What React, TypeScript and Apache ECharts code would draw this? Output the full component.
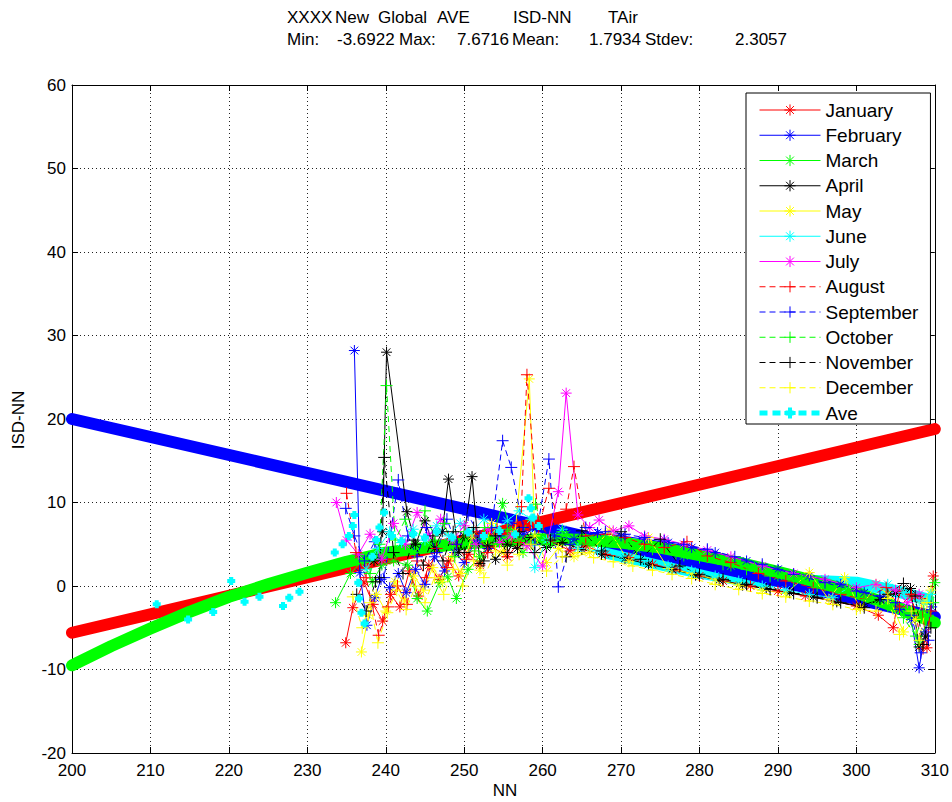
import React, { useEffect, useRef } from "react";
import * as echarts from "echarts";

// ---------- data ----------
const X_MIN = 200, X_MAX = 310, Y_MIN = -20, Y_MAX = 60;

const JANUARY_FIT: number[][] = [[200, -5.6], [310, 18.8]];
const FEBRUARY_FIT: number[][] = [[200, 20.0], [310, -3.7]];
const MARCH_FIT: number[][] = [
  [200, -9.5], [205, -7.2], [210, -5.1], [215, -3.1], [220, -1.3], [225, 0.2], [230, 1.6], [235, 2.9],
  [240, 4.0], [245, 4.6], [250, 5.1], [255, 5.4], [260, 5.6], [265, 5.55], [270, 5.2], [275, 4.6],
  [280, 3.7], [285, 2.8], [290, 1.7], [295, 0.5], [300, -0.8], [305, -2.5], [310, -4.4],
];
const AVE_FIT: number[][] = [
  [268, 4.0], [275, 2.6], [280, 1.6], [285, 0.8], [290, 0.6], [295, 0.6], [300, 0.4], [305, -0.6], [309, -1.6],
];

const JANUARY: number[][] = [
  [234.9, -6.8], [235.8, -2.6], [237.2, 0.5], [238.4, -2.2], [239.6, -4.2], [240.6, -1.0], [241.8, -2.5], [243.0, 1.8],
  [244.2, -1.2], [245.5, 2.5], [246.8, 0.8], [248.0, 3.0], [249.3, 1.2], [250.6, 3.8], [252.0, 2.5], [253.4, 4.8],
  [255.5, 3.5], [257.0, 5.2], [259.5, 7.8], [261.0, 5.5], [263.5, 4.2], [265.5, 4.8], [268.0, 3.8], [271.0, 3.4],
  [274.0, 2.6], [277.0, 2.0], [280.0, 1.2], [283.0, 0.6], [286.5, 0.0], [290.0, -0.6], [293.5, -1.2], [297.0, -1.8],
  [300.0, -2.4], [302.8, -3.5], [304.7, -5.0], [305.5, -0.6], [307.0, -1.2], [308.2, -1.5], [309.0, -7.4], [309.8, 1.2],
];
const FEBRUARY: number[][] = [
  [236.0, 28.2], [236.7, 1.6], [237.6, -4.7], [238.6, -1.4], [239.4, 0.8], [240.5, -0.2], [241.6, 1.5], [242.6, -0.8],
  [243.8, 2.0], [245.0, 0.2], [246.2, 3.5], [247.5, 1.8], [248.8, 4.0], [250.0, 2.8], [251.5, 5.5], [253.0, 4.5],
  [254.5, 6.0], [256.0, 7.5], [257.5, 6.2], [259.0, 6.8], [261.5, 6.0], [264.0, 5.6], [267.0, 6.4], [270.0, 6.0],
  [273.0, 5.6], [276.0, 5.2], [279.0, 4.6], [282.0, 4.0], [286.0, 3.0], [290.0, 2.0], [294.0, 1.2], [298.0, 0.2],
  [301.0, -0.8], [303.5, -1.5], [305.5, -2.8], [307.0, -4.0], [308.0, -9.8], [308.8, -5.5], [309.6, -2.5],
];
const MARCH: number[][] = [
  [233.6, -2.0], [235.5, 1.5], [237.0, 3.0], [238.3, 0.5], [239.5, 2.5], [241.0, 3.0], [242.8, 2.5], [244.0, -1.5],
  [245.3, -3.0], [246.9, 0.4], [247.9, 1.1], [249.0, -1.5], [250.5, 2.0], [252.0, 3.5], [253.5, 5.5], [254.9, 9.9],
  [256.0, 6.5], [257.5, 4.0], [259.0, 6.0], [261.0, 5.0], [263.0, 6.2], [266.0, 5.0], [269.0, 5.6], [272.0, 4.4],
  [275.0, 4.8], [278.0, 3.6], [281.0, 3.4], [284.0, 2.4], [287.0, 2.2], [290.0, 1.2], [293.0, 1.0], [296.0, 0.0],
  [299.0, -0.4], [302.0, -1.5], [304.5, -2.2], [306.5, -3.5], [308.0, -7.0], [309.2, -3.5], [310.0, 0.4],
];
const APRIL: number[][] = [
  [238.5, 3.0], [239.6, 6.5], [240.1, 28.0], [242.7, 8.9], [243.8, 5.0], [245.0, 7.8], [246.2, 4.5], [247.2, 6.5],
  [248.0, 12.8], [249.3, 4.0], [250.0, 6.0], [251.0, 13.1], [252.0, 2.7], [253.0, 4.8], [254.0, 3.2], [255.5, 5.0],
  [256.8, 4.5], [258.5, 5.8], [260.5, 4.6], [262.5, 5.2], [265.0, 4.4], [267.5, 3.8], [270.5, 3.3], [273.5, 2.6],
  [276.5, 2.0], [279.5, 1.3], [282.5, 0.7], [285.5, 0.1], [288.5, -0.3], [291.5, -0.8], [294.5, -1.3], [297.5, -1.9],
  [300.5, -2.4], [303.0, -1.6], [305.0, -0.9], [306.9, -0.3], [308.0, -7.3], [308.8, -6.0],
];
const MAY: number[][] = [
  [236.9, -7.9], [237.8, -3.5], [238.8, -1.0], [240.0, -3.0], [241.2, 0.5], [242.4, -1.8], [243.6, 1.2], [244.8, -0.5],
  [246.0, 2.2], [247.2, 0.5], [248.4, 3.5], [249.6, 1.5], [251.0, 6.0], [252.0, 1.9], [253.5, 7.5], [255.0, 4.0],
  [256.5, 6.5], [258.3, 24.8], [259.0, 6.0], [260.5, 2.8], [262.0, 4.5], [264.0, 3.5], [266.0, 4.0], [268.5, 6.6],
  [271.0, 2.9], [273.5, 5.8], [276.0, 2.1], [279.0, 1.5], [282.0, 0.8], [285.0, 0.1], [288.0, -0.5], [291.0, -0.9],
  [294.0, 1.6], [296.5, -1.6], [298.5, 1.0], [300.5, -2.7], [302.5, 0.2], [304.0, -1.0], [306.0, -5.5], [307.5, -4.0],
  [308.5, -2.0], [309.5, -0.5],
];
const JUNE: number[][] = [
  [237.5, 2.0], [239.0, 4.5], [240.5, 6.5], [242.0, 5.2], [243.5, 6.8], [245.0, 5.5], [246.5, 7.2], [248.0, 6.0],
  [249.5, 7.5], [251.0, 6.5], [252.5, 8.0], [254.0, 6.8], [255.5, 7.8], [257.0, 9.0], [258.5, 8.0], [259.0, 2.2],
  [260.5, 5.5], [262.5, 6.8], [264.5, 4.5], [267.0, 4.2], [270.0, 3.6], [273.0, 3.0], [276.0, 2.4], [279.0, 1.8],
  [282.0, 1.2], [285.0, 0.6], [288.0, 0.0], [291.0, -0.5], [294.0, -1.0], [297.0, -1.4], [300.0, 0.4], [302.0, -0.2],
  [304.0, 0.2], [306.0, -0.8], [308.0, -1.8], [309.5, -1.0],
];
const JULY: number[][] = [
  [233.7, 10.0], [235.0, 5.5], [236.5, 3.8], [238.0, 6.2], [239.5, 3.2], [241.0, 7.5], [242.5, 5.0], [244.0, 8.8],
  [245.5, 6.0], [247.0, 8.0], [248.5, 5.5], [250.0, 7.2], [251.5, 5.0], [253.0, 6.8], [254.5, 5.2], [256.0, 6.0],
  [258.0, 4.8], [260.0, 2.4], [262.0, 11.3], [263.0, 23.1], [264.5, 8.5], [266.0, 7.0], [267.2, 7.9], [269.0, 6.6],
  [271.0, 7.2], [273.0, 6.0], [275.5, 5.6], [278.0, 5.0], [281.0, 4.3], [284.0, 3.5], [288.0, 2.4], [292.0, 1.5],
  [296.0, 0.8], [300.0, -0.2], [302.5, 0.2], [305.0, -0.5], [306.5, -2.0], [308.0, -1.0],
];
const AUGUST: number[][] = [
  [235.0, 11.1], [236.2, 4.0], [237.5, 1.0], [239.1, -5.9], [240.3, -2.5], [241.5, 0.0], [242.7, -2.2], [244.0, 3.0],
  [245.2, 1.0], [246.5, 4.5], [247.8, 2.2], [249.0, 5.0], [250.3, 3.2], [251.5, 6.5], [253.0, 4.0], [254.2, 6.8],
  [255.5, 3.5], [257.3, 9.5], [258.0, 25.3], [259.5, 7.0], [260.8, 11.7], [262.0, 8.0], [263.0, 9.2], [264.0, 14.3],
  [265.5, 6.0], [268.0, 6.2], [270.5, 5.8], [273.0, 5.0], [275.5, 4.6], [278.4, 5.3], [281.0, 3.6], [284.0, 2.8],
  [287.5, 1.5], [291.0, 0.6], [294.5, -0.2], [298.0, -1.0], [301.0, -1.6], [303.8, -0.2], [305.5, -2.5], [307.0, -1.0],
  [308.5, -7.5], [309.5, -3.0],
];
const SEPTEMBER: number[][] = [
  [234.9, 9.3], [236.0, 6.0], [237.3, 3.0], [238.6, 5.3], [239.8, 1.0], [241.6, 12.7], [242.8, 6.0], [244.0, 3.5],
  [245.2, 7.0], [246.5, 4.0], [247.8, 8.0], [249.0, 5.0], [250.5, 8.5], [252.0, 6.0], [253.5, 7.0], [254.9, 17.4],
  [256.0, 14.2], [257.5, 7.0], [259.0, 5.0], [260.8, 15.2], [262.0, -0.1], [263.5, 5.0], [265.5, 7.0], [268.0, 6.5],
  [270.5, 6.2], [273.0, 5.8], [275.5, 5.4], [278.0, 5.0], [281.0, 4.4], [284.5, 3.5], [288.0, 2.6], [292.0, 1.4],
  [296.0, 0.4], [300.0, -0.6], [303.0, -1.2], [305.0, -2.0], [307.0, -3.5], [308.2, -8.0], [309.2, -6.5],
];
const OCTOBER: number[][] = [
  [238.0, 1.5], [239.2, 5.0], [240.1, 24.0], [241.2, 5.5], [242.5, 8.0], [243.7, 4.0], [245.0, 9.0], [246.3, 5.5],
  [247.5, 7.5], [248.8, 3.5], [250.0, 6.5], [251.3, 4.2], [252.6, 7.0], [254.0, 5.0], [255.5, 6.8], [257.0, 5.5],
  [259.1, 9.8], [260.5, 5.0], [262.5, 6.5], [265.0, 5.8], [268.0, 5.5], [271.0, 5.0], [274.0, 4.4], [277.0, 3.9],
  [280.0, 3.4], [283.0, 2.6], [286.0, 2.0], [289.0, 1.2], [292.0, 0.6], [295.0, -0.2], [298.0, -0.8], [301.0, -1.6],
  [304.0, -2.4], [306.0, -3.8], [307.6, -6.0], [308.6, -3.0], [309.8, -2.0],
];
const NOVEMBER: number[][] = [
  [236.3, -1.0], [237.5, -3.0], [238.7, 0.5], [239.2, 1.0], [239.8, 15.4], [241.0, 4.0], [242.2, 1.5], [243.5, 5.5],
  [244.8, 2.5], [246.0, 6.0], [247.3, 3.0], [248.6, 6.5], [250.0, 4.0], [251.2, 7.0], [252.5, 3.0], [254.0, 6.0],
  [255.5, 4.0], [257.0, 6.5], [259.0, 4.0], [261.0, 5.5], [263.0, 3.5], [265.0, 6.6], [267.5, 4.2], [270.0, 6.5],
  [272.5, 3.2], [275.0, 5.6], [277.5, 2.4], [280.0, 1.4], [283.0, 0.8], [286.0, 0.2], [289.0, -0.4], [292.0, -0.9],
  [295.0, -1.4], [298.0, -2.0], [301.0, -2.6], [304.0, -1.0], [306.0, 0.3], [307.5, -1.2], [308.5, -7.0], [309.5, -5.0],
];
const DECEMBER: number[][] = [
  [235.8, -1.3], [237.0, -5.0], [238.0, -2.0], [239.0, -6.8], [240.2, -3.2], [241.4, -0.5], [242.6, -2.8], [243.8, 0.0],
  [245.0, -2.0], [246.2, 1.0], [247.4, -1.0], [248.6, 2.0], [249.8, 0.0], [251.2, 3.0], [252.5, 1.0], [254.0, 4.2],
  [255.5, 2.5], [257.0, 3.8], [258.5, 5.0], [260.5, 1.8], [262.5, 3.5], [264.5, 4.0], [266.5, 3.4], [269.0, 2.9],
  [271.5, 2.4], [274.0, 1.9], [276.5, 1.4], [279.0, 0.9], [282.0, 0.2], [285.0, -0.4], [288.0, -0.9], [291.0, -1.3],
  [294.0, -1.8], [297.0, -2.2], [300.0, -2.8], [302.5, -3.0], [304.0, -1.5], [305.5, -5.8], [307.0, -3.0], [308.0, -6.5],
  [309.0, -2.0],
];
const AVE: number[][] = [
  [210.8, -2.2], [214.8, -4.0], [218.0, -3.1], [220.3, 0.6], [222.0, -1.9], [223.9, -1.3], [226.9, -2.4], [227.7, -1.4],
  [229.0, -0.7], [233.5, 4.0], [234.5, 5.0], [235.3, 6.0], [235.8, 7.2], [236.0, 8.5], [236.5, 0.4], [236.6, -1.5],
  [236.9, -3.2], [237.3, -4.5], [238.3, 3.5], [238.8, 5.5], [239.2, 7.0], [239.8, 8.8], [240.8, 6.0], [242.0, 5.4],
  [243.5, 6.2], [245.0, 5.8], [246.5, 6.5], [248.5, 5.8], [250.5, 6.4], [252.5, 6.0], [254.5, 6.6], [256.5, 6.2],
  [258.2, 10.5], [258.5, 9.3], [258.8, 8.2], [259.5, 7.2],
];

const MONTH_NAMES = [
  "January", "February", "March", "April", "May", "June", "July",
  "August", "September", "October", "November", "December",
];
const MONTH_DATA = [JANUARY, FEBRUARY, MARCH, APRIL, MAY, JUNE, JULY, AUGUST, SEPTEMBER, OCTOBER, NOVEMBER, DECEMBER];
const MONTH_COLORS = [
  "#ff0000", "#0000ff", "#00ff00", "#000000", "#ffff00", "#00ffff", "#ff00ff",
  "#ff0000", "#0000ff", "#00ff00", "#000000", "#ffff00",
];

const TITLE_LINE1 = ["XXXX", "New", "Global", "AVE", "ISD-NN", "TAir"];
const TITLE_LINE2 = ["Min:", "-3.6922", "Max:", "7.6716", "Mean:", "1.7934", "Stdev:", "2.3057"];

// ---------- styling ----------
const FONT = "'Liberation Sans', Arial, Helvetica, sans-serif";
const ASTERISK = "path://M0,5L10,5M5,0L5,10M1.5,1.5L8.5,8.5M8.5,1.5L1.5,8.5";
const PLUS = "path://M0,5L10,5M5,0L5,10";
const AVE_COLOR = "#00ffff";

function buildOption() {
  const bandSeries = (data: number[][], color: string, name: string) => ({
    type: "line",
    name,
    data,
    symbol: "none",
    silent: true,
    lineStyle: { color, width: 12, cap: "round", join: "round" },
    z: 2,
  });

  const monthSeries = MONTH_NAMES.map((name, i) => {
    const dashed = i >= 7;
    const c = MONTH_COLORS[i];
    return {
      type: "line",
      name,
      data: MONTH_DATA[i],
      symbol: dashed ? PLUS : ASTERISK,
      symbolSize: dashed ? 12 : 11,
      showAllSymbol: true,
      silent: true,
      lineStyle: { color: c, width: 1, type: dashed ? [6, 4] : "solid" },
      itemStyle: { color: c, borderColor: c, borderWidth: 1 },
      z: 3,
    };
  });

  const aveData: any[] = [];
  AVE.forEach((p, i) => {
    if (i > 0) aveData.push([p[0], "-"]);
    aveData.push(p);
  });

  const aveSeries = {
    type: "line",
    name: "Ave",
    data: aveData,
    connectNulls: false,
    symbol: PLUS,
    symbolSize: 8,
    showAllSymbol: true,
    silent: true,
    lineStyle: { color: AVE_COLOR, width: 5, type: [8, 5] },
    itemStyle: { color: AVE_COLOR, borderColor: AVE_COLOR, borderWidth: 4 },
    z: 4,
  };

  const axisCommonX = {
    type: "value",
    min: X_MIN,
    max: X_MAX,
    interval: 10,
    axisLine: { show: true, onZero: false, lineStyle: { color: "#000", width: 1 } },
    axisTick: { show: true, inside: true, length: 6, lineStyle: { color: "#000" } },
  };
  const axisCommonY = {
    type: "value",
    min: Y_MIN,
    max: Y_MAX,
    interval: 10,
    axisLine: { show: true, onZero: false, lineStyle: { color: "#000", width: 1 } },
    axisTick: { show: true, inside: true, length: 6, lineStyle: { color: "#000" } },
  };
  const gridLine = { show: true, lineStyle: { color: "#222", width: 1, type: [1, 3] } };
  const labelStyle = { color: "#000", fontSize: 17, fontFamily: FONT };

  const t1x = [287, 335, 378, 437, 513, 608];
  const t2x = [287, 337, 399, 457, 512, 589, 645, 735];
  const titleText = (text: string, x: number, y: number) => ({
    type: "text",
    x,
    y,
    silent: true,
    style: {
      text,
      fill: "#000",
      font: `17px ${FONT}`,
      textAlign: "left",
      textVerticalAlign: "middle",
      align: "left",
      verticalAlign: "middle",
    },
  });

  return {
    animation: false,
    backgroundColor: "#fff",
    grid: { left: 72, top: 85, right: 16, bottom: 49, containLabel: false },
    xAxis: [
      { ...axisCommonX, position: "bottom", axisLabel: { ...labelStyle, margin: 9 }, splitLine: gridLine },
      { ...axisCommonX, position: "top", axisLabel: { show: false }, splitLine: { show: false } },
    ],
    yAxis: [
      { ...axisCommonY, position: "left", axisLabel: { ...labelStyle, margin: 6 }, splitLine: gridLine },
      { ...axisCommonY, position: "right", axisLabel: { show: false }, splitLine: { show: false } },
    ],
    legend: {
      orient: "vertical",
      left: 746,
      top: 93,
      itemWidth: 61,
      itemHeight: 14,
      itemGap: 6.25,
      padding: [7.5, 12, 1.5, 11],
      backgroundColor: "#fff",
      borderColor: "#000",
      borderWidth: 1,
      borderRadius: 0,
      selectedMode: false,
      lineStyle: { width: 1 },
      itemStyle: { borderWidth: 1 },
      textStyle: { color: "#000", fontSize: 19, fontFamily: FONT },
      data: [
        ...MONTH_NAMES.map((n) => ({ name: n })),
        { name: "Ave", lineStyle: { width: 5 }, itemStyle: { borderWidth: 4 } },
      ],
    },
    graphic: [
      ...TITLE_LINE1.map((t, i) => titleText(t, t1x[i], 17)),
      ...TITLE_LINE2.map((t, i) => titleText(t, t2x[i], 39)),
      {
        type: "text",
        x: 505,
        y: 790,
        silent: true,
        style: {
          text: "NN", fill: "#000", font: `17px ${FONT}`,
          textAlign: "center", textVerticalAlign: "middle", align: "center", verticalAlign: "middle",
        },
      },
      {
        type: "text",
        x: 18,
        y: 420,
        rotation: Math.PI / 2,
        silent: true,
        style: {
          text: "ISD-NN", fill: "#000", font: `17px ${FONT}`,
          textAlign: "center", textVerticalAlign: "middle", align: "center", verticalAlign: "middle",
        },
      },
    ],
    series: [
      bandSeries(AVE_FIT, AVE_COLOR, "AveFit"),
      bandSeries(FEBRUARY_FIT, "#0000ff", "FebruaryFit"),
      bandSeries(JANUARY_FIT, "#ff0000", "JanuaryFit"),
      bandSeries(MARCH_FIT, "#00ff00", "MarchFit"),
      ...monthSeries,
      aveSeries,
    ],
  };
}

export default function App() {
  const ref = useRef<HTMLDivElement>(null);
  useEffect(() => {
    document.body.style.margin = "0";
    if (!ref.current) return;
    const chart = echarts.init(ref.current, null, { renderer: "svg" });
    chart.setOption(buildOption() as any);
    return () => chart.dispose();
  }, []);
  return <div ref={ref} style={{ width: 952, height: 802, background: "#fff" }} />;
}
